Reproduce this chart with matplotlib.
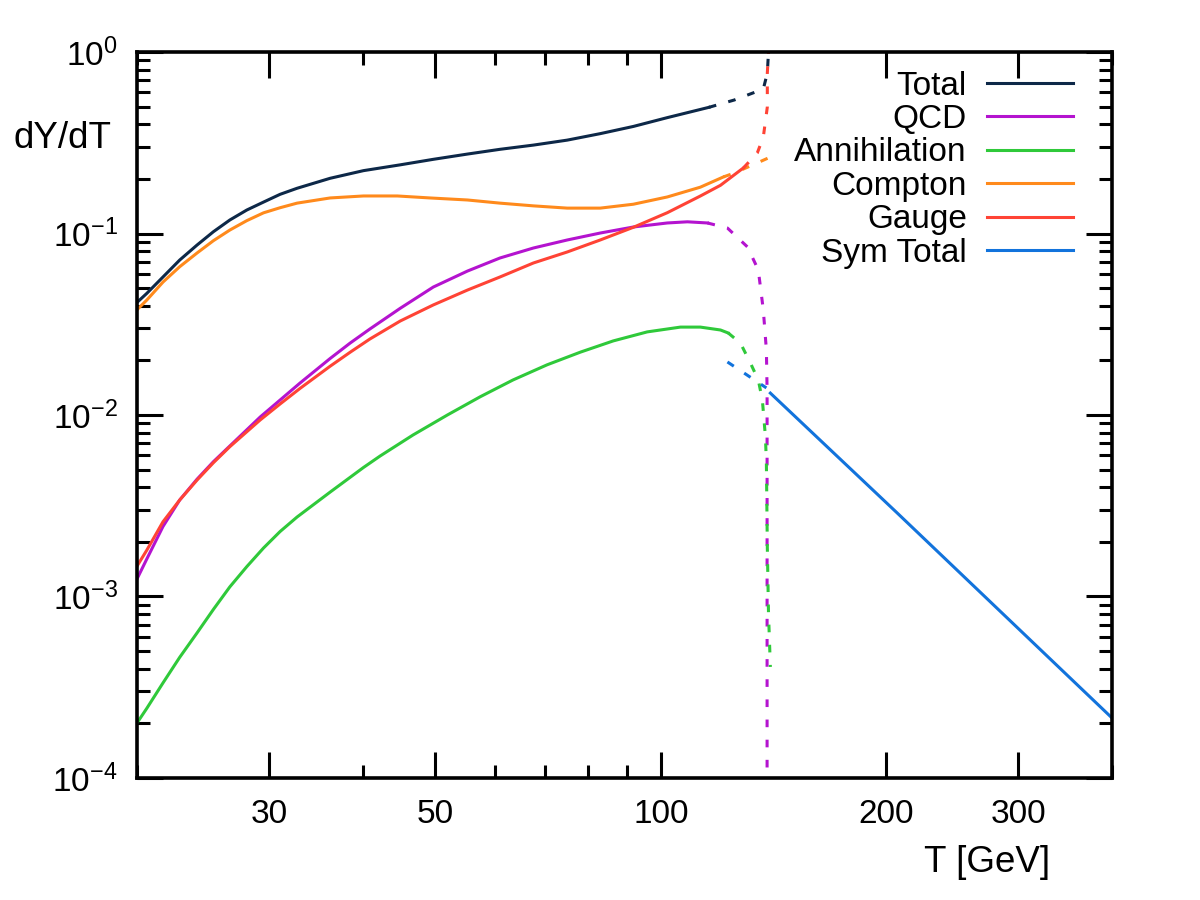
import matplotlib
matplotlib.use("Agg")
import matplotlib.pyplot as plt
from matplotlib.ticker import FixedLocator, NullFormatter, LogFormatterMathtext, LogLocator

plt.rcParams['font.family'] = ['Liberation Sans', 'DejaVu Sans']
plt.rcParams['mathtext.fontset'] = 'custom'
plt.rcParams['mathtext.rm'] = 'Liberation Sans'
plt.rcParams['mathtext.it'] = 'Liberation Sans:italic'
plt.rcParams['lines.scale_dashes'] = False

# --- data (T in GeV, dY/dT) ---
t_total = [20.0, 20.61, 21.66, 22.8, 24.05, 25.29, 26.6, 28.02, 29.5, 31.04, 32.7, 36.2, 40.1, 44.9,
           49.7, 55.2, 61.0, 67.6, 75.0, 83.0, 91.9, 102.0, 115.9]
y_total = [0.0417, 0.0468, 0.0576, 0.0714, 0.0864, 0.1023, 0.1187, 0.1347, 0.149, 0.1644, 0.1775, 0.2015, 0.222, 0.239,
           0.2563, 0.274, 0.291, 0.307, 0.327, 0.355, 0.389, 0.435, 0.4956]
t_total_dash = [115.9, 125.3, 137.0, 138.7, 139.2]
y_total_dash = [0.4956, 0.544, 0.625, 0.766, 1.0]

t_qcd = [20.0, 20.61, 21.66, 22.8, 24.05, 25.29, 26.6, 29.2, 31.04, 33.0, 36.2, 38.5, 40.9, 44.9, 49.7,
         55.2, 61.0, 67.6, 75.0, 83.0, 91.9, 102.0, 108.5, 115.4]
y_qcd = [0.00125, 0.00161, 0.00243, 0.0034, 0.00443, 0.00553, 0.00675, 0.00975, 0.01209, 0.0150, 0.02048, 0.02492, 0.02977, 0.03872, 0.0507,
         0.0621, 0.0733, 0.0832, 0.0921, 0.1006, 0.1086, 0.1143, 0.1160, 0.1143]
t_qcd_dash = [115.4, 122.7, 130.5, 134.9, 137.0, 138.3, 138.6, 138.6]
y_qcd_dash = [0.1143, 0.1072, 0.0843, 0.063, 0.0379, 0.0228, 0.0137, 0.00009]

t_ann = [20.0, 20.61, 21.66, 22.8, 24.05, 25.29, 26.6, 28.02, 29.5, 31.04, 32.7, 36.2, 40.1, 42.2, 46.7,
         51.9, 57.4, 63.5, 70.5, 78.1, 86.4, 95.9, 106.2, 112.9, 120.1, 123.0]
y_ann = [0.000201, 0.000242, 0.000334, 0.000462, 0.00063, 0.000849, 0.00113, 0.00146, 0.00185, 0.00228, 0.00274, 0.00376, 0.005136, 0.00594, 0.00776,
         0.0100, 0.0126, 0.0156, 0.0189, 0.0222, 0.0256, 0.0287, 0.0305, 0.0305, 0.0294, 0.0283]
t_ann_dash = [123.0, 127.7, 131.7, 134.9, 136.6, 137.9, 138.3, 138.7, 139.2, 140.0]
y_ann_dash = [0.0283, 0.0249, 0.0193, 0.0156, 0.0121, 0.00756, 0.00544, 0.001875, 0.000811, 0.000409]

t_compton = [20.0, 20.61, 21.66, 22.8, 24.05, 25.29, 26.6, 28.02, 29.5, 31.04, 32.7, 36.2, 40.1, 44.5, 49.2,
             55.2, 61.0, 67.6, 75.0, 83.0, 91.9, 102.0, 112.9, 121.2]
y_compton = [0.038, 0.0430, 0.0540, 0.0656, 0.0781, 0.0913, 0.1045, 0.1177, 0.130, 0.1387, 0.147, 0.157, 0.161, 0.161, 0.157,
             0.153, 0.147, 0.142, 0.138, 0.138, 0.145, 0.159, 0.180, 0.205]
t_compton_dash = [121.2, 125.3, 134.5, 139.2]
y_compton_dash = [0.205, 0.2154, 0.245, 0.261]

t_gauge = [20.0, 20.61, 21.66, 22.8, 24.05, 25.29, 26.6, 29.2, 31.04, 33.0, 36.2, 38.5, 40.9, 44.9, 49.7,
           55.2, 61.0, 67.6, 75.0, 83.0, 91.9, 102.0, 112.9, 120.1, 128.9]
y_gauge = [0.00147, 0.0018, 0.00258, 0.0034, 0.00438, 0.00546, 0.00669, 0.00939, 0.0115, 0.01401, 0.01857, 0.02218, 0.02622, 0.03295, 0.0404,
           0.0488, 0.0576, 0.0688, 0.0791, 0.0921, 0.1082, 0.1302, 0.1609, 0.1843, 0.230]
t_gauge_dash = [128.9, 134.5, 137.0, 138.7, 138.7, 139.2]
y_gauge_dash = [0.230, 0.278, 0.340, 0.498, 0.766, 1.0]

t_sym_dash = [122.7, 138.3]
y_sym_dash = [0.0196, 0.0141]
t_sym = [140.0, 206.8, 400.0]
y_sym = [0.0132, 0.00288, 0.000214]

series = [
    ("Total", "#0d2848", t_total, y_total, t_total_dash, y_total_dash),
    ("QCD", "#b413cf", t_qcd, y_qcd, t_qcd_dash, y_qcd_dash),
    ("Annihilation", "#2fc93a", t_ann, y_ann, t_ann_dash, y_ann_dash),
    ("Compton", "#ff8a1c", t_compton, y_compton, t_compton_dash, y_compton_dash),
    ("Gauge", "#ff4335", t_gauge, y_gauge, t_gauge_dash, y_gauge_dash),
    ("Sym Total", "#1273dc", t_sym, y_sym, t_sym_dash, y_sym_dash),
]

fig = plt.figure(figsize=(12, 9), dpi=100)
ax = fig.add_axes([0.1142, 0.1356, 0.8125, 0.8066])

lw = 2.2
for name, color, t, y, td, yd in series:
    ax.plot(t, y, color=color, lw=lw, label=name, solid_joinstyle="round")
    ax.plot(td, yd, color=color, lw=lw, dashes=(5.5, 9))

ax.set_xscale("log")
ax.set_yscale("log")
ax.set_xlim(20, 400)
ax.set_ylim(1e-4, 1)

ax.xaxis.set_major_locator(FixedLocator([30, 50, 100, 200, 300]))
ax.xaxis.set_minor_locator(FixedLocator([20, 40, 60, 70, 80, 90, 400]))
ax.xaxis.set_major_formatter(plt.FuncFormatter(lambda v, p: "%d" % v))
ax.xaxis.set_minor_formatter(NullFormatter())
ax.yaxis.set_major_locator(LogLocator(base=10, numticks=10))
ax.yaxis.set_minor_locator(LogLocator(base=10, subs=range(2, 10), numticks=20))
ax.yaxis.set_major_formatter(LogFormatterMathtext())
ax.yaxis.set_minor_formatter(NullFormatter())

ax.tick_params(which="both", direction="in", top=True, right=True, width=2.2, labelsize=24)
ax.tick_params(which="major", length=19)
ax.tick_params(which="minor", length=9.5)
ax.tick_params(axis="x", which="major", pad=15)
ax.tick_params(axis="y", which="major", pad=14)
for s in ax.spines.values():
    s.set_linewidth(2.6)

ax.set_ylabel("dY/dT", fontsize=26.5, rotation=0, ha="center", va="center")
ax.yaxis.set_label_coords(-0.076, 0.881)
ax.set_xlabel("T [GeV]", fontsize=26.5, ha="center", va="center")
ax.xaxis.set_label_coords(0.872, -0.116)

leg = ax.legend(loc="upper right", frameon=False, fontsize=24, markerfirst=False,
                handlelength=2.58, handletextpad=0.6, labelspacing=0.072,
                borderaxespad=0.16, borderpad=0.4, bbox_to_anchor=(0.979, 1.0))

fig.savefig("out.png", dpi=100)
